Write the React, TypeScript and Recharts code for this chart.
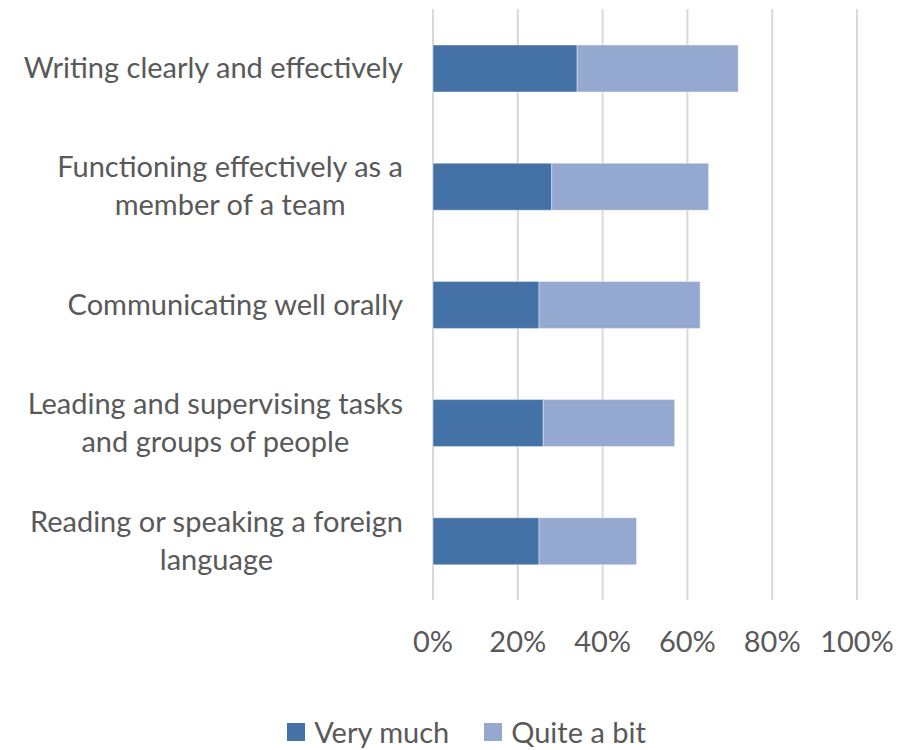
import { useLayoutEffect, useRef, useState } from "react"
import { BarChart, Bar, XAxis, YAxis, CartesianGrid, Legend } from "recharts"

const categories = [
  "Writing clearly and effectively",
  "Functioning effectively as a\nmember of a team",
  "Communicating well orally",
  "Leading and supervising tasks\nand groups of people",
  "Reading or speaking a foreign\nlanguage",
]
const veryMuch = [0.34, 0.28, 0.25, 0.26, 0.25]
const quiteABit = [0.38, 0.37, 0.38, 0.31, 0.23]
const xTicks = [0, 0.2, 0.4, 0.6, 0.8, 1]

const seriesNames = ["Very much", "Quite a bit"]
const DARK = "#4472A6"
const LIGHT = "#95A9D0"
const TEXT = "#595959"
const FONT = "Lato, 'Open Sans', sans-serif"
const FS = 29

const data = categories.map((name, i) => ({ name, very: veryMuch[i], quite: quiteABit[i] }))

function CategoryTick(props: any) {
  const { x, y, payload } = props
  const lines = String(payload.value).split("\n")
  const ref = useRef<SVGTextElement>(null)
  const [w, setW] = useState(0)
  useLayoutEffect(() => {
    if (ref.current) setW(ref.current.getBBox().width)
  }, [payload.value])
  const right = x - 22
  const cx = right - w / 2
  const lh = 38
  const first = FS * 0.35 - ((lines.length - 1) * lh) / 2
  return (
    <text ref={ref} x={cx} y={y} textAnchor="middle" fill={TEXT} fontSize={FS} fontFamily={FONT}>
      {lines.map((l, i) => (
        <tspan key={i} x={cx} dy={i === 0 ? first : lh}>
          {l}
        </tspan>
      ))}
    </text>
  )
}

function LegendContent() {
  const colors = [DARK, LIGHT]
  return (
    <div style={{ display: "flex", justifyContent: "center", gap: 35, height: 34, alignItems: "flex-start", paddingLeft: 76, fontFamily: FONT, fontSize: FS, color: TEXT }}>
      {seriesNames.map((n, i) => (
        <div key={n} style={{ display: "flex", alignItems: "center", gap: 9 }}>
          <div style={{ width: 18, height: 18, background: colors[i] }} />
          <span style={{ lineHeight: "32px" }}>{n}</span>
        </div>
      ))}
    </div>
  )
}

export default function App() {
  return (
    <div style={{ position: "absolute", left: 0, top: 0, background: "#fff" }}>
      <BarChart
        width={900}
        height={750}
        data={data}
        layout="vertical"
        margin={{ top: 9, right: 43, bottom: 0, left: 0 }}
        barSize={47}
      >
        <CartesianGrid horizontal={false} vertical={true} stroke="#d9d9d9" strokeWidth={2} />
        <XAxis
          type="number"
          domain={[0, 1]}
          ticks={xTicks}
          tickFormatter={(v: number) => `${Math.round(v * 100)}%`}
          axisLine={false}
          tickLine={false}
          height={116}
          tickMargin={25}
          tick={{ fill: TEXT, fontSize: FS, fontFamily: FONT }}
          interval={0}
        />
        <YAxis
          type="category"
          dataKey="name"
          width={433}
          axisLine={false}
          tickLine={false}
          tick={<CategoryTick />}
          interval={0}
        />
        <Legend verticalAlign="bottom" content={<LegendContent />} />
        <Bar dataKey="very" name={seriesNames[0]} stackId="a" fill={DARK} stroke="#ffffff" strokeOpacity={0.4} isAnimationActive={false} />
        <Bar dataKey="quite" name={seriesNames[1]} stackId="a" fill={LIGHT} stroke="#ffffff" strokeOpacity={0.4} isAnimationActive={false} />
      </BarChart>
    </div>
  )
}
